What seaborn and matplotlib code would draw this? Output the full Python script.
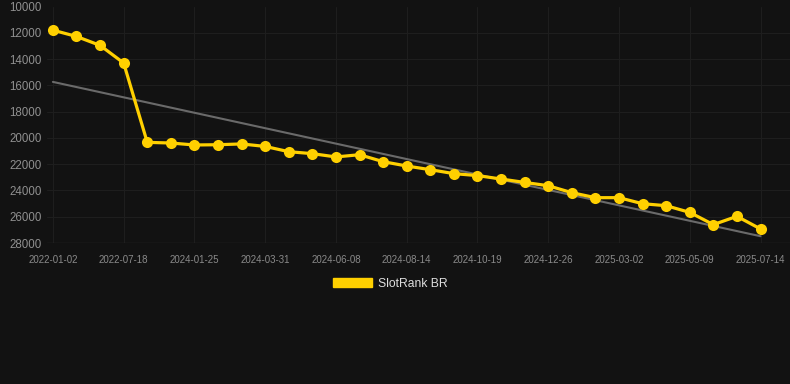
import numpy as np
import pandas as pd
import seaborn as sns
import matplotlib
matplotlib.use("Agg")
import matplotlib.pyplot as plt
from matplotlib.patches import Patch

# dates of each sample (only every 3rd one is labelled on the axis)
dates = ["2022-01-02", "2022-03-08", "2022-05-12", "2022-07-18", "2023-11-20",
         "2023-12-28", "2024-01-25", "2024-02-16", "2024-03-09", "2024-03-31",
         "2024-04-23", "2024-05-16", "2024-06-08", "2024-06-30", "2024-07-23",
         "2024-08-14", "2024-09-05", "2024-09-27", "2024-10-19", "2024-11-11",
         "2024-12-03", "2024-12-26", "2025-01-18", "2025-02-09", "2025-03-02",
         "2025-03-24", "2025-04-16", "2025-05-09", "2025-05-31", "2025-06-22",
         "2025-07-14"]
rank = [11800, 12280, 12960, 14300, 20340, 20390, 20540, 20520, 20460, 20650,
        21050, 21200, 21450, 21280, 21810, 22140, 22420, 22720, 22870, 23130,
        23390, 23640, 24170, 24550, 24550, 25010, 25160, 25670, 26600, 25970,
        26930]
series_name = "SlotRank BR"

bg = "#121212"
yellow = "#ffd000"

sns.set_theme(style="dark", rc={"axes.facecolor": bg, "figure.facecolor": bg})
plt.rcParams["font.family"] = ["Liberation Sans", "DejaVu Sans"]

df = pd.DataFrame({"i": np.arange(len(dates)), "date": dates, "rank": rank})
# simple linear trend over the samples
coef = np.polyfit(df["i"], df["rank"], 1)
df["trend"] = np.polyval(coef, df["i"])

fig = plt.figure(figsize=(7.9, 3.84), dpi=100)
ax = fig.add_axes([47 / 790, 141 / 384, 743 / 790, 236.5 / 384])

sns.lineplot(data=df, x="i", y="trend", color="#6a6a6a", linewidth=1.5, ax=ax)
sns.lineplot(data=df, x="i", y="rank", color=yellow, linewidth=2.3,
             marker="o", markersize=8, markeredgewidth=0, ax=ax)

ax.set_ylim(28000, 10000)
ax.set_yticks(np.arange(10000, 28001, 2000))
ax.set_xlim(-0.25, 31.25)
ticks = list(range(0, len(dates), 3))
ax.set_xticks(ticks)
ax.set_xticklabels([dates[t] for t in ticks])
ax.set_xlabel("")
ax.set_ylabel("")

ax.grid(True, color="#1e1e1e", linewidth=0.8)
for s in ax.spines.values():
    s.set_visible(False)
ax.axhline(28000, color="#2a2a2a", linewidth=1)
ax.tick_params(axis="y", length=0, pad=4, labelsize=8.3, labelcolor="#909090")
ax.tick_params(axis="x", length=0, pad=8.5, labelsize=7, labelcolor="#8a8a8a")

fig.legend(handles=[Patch(facecolor=yellow, edgecolor=yellow)], labels=[series_name],
           loc="center", bbox_to_anchor=(390 / 790, 1 - 284 / 384), frameon=False,
           fontsize=8.7, labelcolor="#dddddd", handlelength=3.2, handleheight=0.8,
           handletextpad=0.5)

fig.savefig("out.png", dpi=100, facecolor=bg)
